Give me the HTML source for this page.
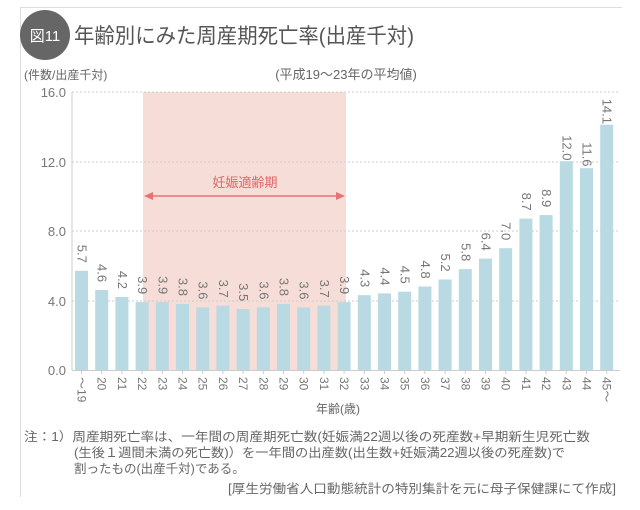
<!DOCTYPE html>
<html><head><meta charset="utf-8"><style>
body{margin:0;background:#fff;}
svg{display:block;font-family:"Liberation Sans","Noto Sans CJK JP",sans-serif;}
</style></head><body>
<svg width="640" height="510" viewBox="0 0 640 510">
<line x1="20" y1="7.5" x2="622" y2="7.5" stroke="#ddd"/>
<line x1="20.5" y1="7" x2="20.5" y2="497" stroke="#ddd"/>
<circle cx="45" cy="35" r="25" fill="#666"/>
<text x="45" y="41" font-size="15" fill="#fff" text-anchor="middle">図11</text>
<text x="74" y="43" font-size="21" fill="#555" textLength="340" lengthAdjust="spacingAndGlyphs">年齢別にみた周産期死亡率(出産千対)</text>
<text x="24" y="79" font-size="12" fill="#666">(件数/出産千対)</text>
<text x="346" y="79" font-size="13" fill="#666" text-anchor="middle">(平成19～23年の平均値)</text>
<rect x="143" y="92" width="203" height="278" fill="#f6ddd7"/>
<g stroke="#ccc" stroke-dasharray="2,2">
<line x1="72" y1="92" x2="620" y2="92"/>
<line x1="72" y1="162" x2="620" y2="162"/>
<line x1="72" y1="231" x2="620" y2="231"/>
<line x1="72" y1="301" x2="620" y2="301"/>
</g>
<line x1="72" y1="92" x2="72" y2="370" stroke="#ccc"/>
<line x1="72" y1="370.5" x2="620" y2="370.5" stroke="#ccc"/>
<g font-size="13" fill="#777" text-anchor="end">
<text x="66" y="97">16.0</text><text x="66" y="167">12.0</text>
<text x="66" y="236">8.0</text><text x="66" y="306">4.0</text><text x="66" y="375">0.0</text>
</g>
<text x="245" y="187" font-size="13" fill="#e06666" text-anchor="middle">妊娠適齢期</text>
<line x1="150" y1="196" x2="339" y2="196" stroke="#e57373" stroke-width="1.5"/>
<polygon points="144,196 153,192 153,200" fill="#e57373"/>
<polygon points="345,196 336,192 336,200" fill="#e57373"/>
<g id="bars"></g>
<text x="338" y="413" font-size="12" fill="#666" text-anchor="middle">年齢(歳)</text>
<g font-size="12.5" fill="#666">
<text x="24" y="441" textLength="566" lengthAdjust="spacingAndGlyphs">注：1）周産期死亡率は、一年間の周産期死亡数(妊娠満22週以後の死産数+早期新生児死亡数</text>
<text x="74" y="457" textLength="491" lengthAdjust="spacingAndGlyphs">(生後１週間未満の死亡数)）を一年間の出産数(出生数+妊娠満22週以後の死産数)で</text>
<text x="74" y="473">割ったもの(出産千対)である。</text>
<text x="616" y="493" text-anchor="end" textLength="388" lengthAdjust="spacingAndGlyphs">[厚生労働省人口動態統計の特別集計を元に母子保健課にて作成]</text>
</g>
</svg>
<script>
var v=[5.7,4.6,4.2,3.9,3.9,3.8,3.6,3.7,3.5,3.6,3.8,3.6,3.7,3.9,4.3,4.4,4.5,4.8,5.2,5.8,6.4,7.0,8.7,8.9,12.0,11.6,14.1];
var lab=["～19"];for(var a=20;a<=44;a++)lab.push(""+a);lab.push("45～");
var g=document.getElementById("bars"),s="";
for(var i=0;i<27;i++){var x=75+i*20.2,h=v[i]*17.4,y=370-h;
s+='<rect x="'+x.toFixed(1)+'" y="'+y.toFixed(1)+'" width="13" height="'+h.toFixed(1)+'" fill="#b9d9e3"/>';
var cx=x+6.5;
s+='<text transform="translate('+(cx-4).toFixed(1)+','+(y-26).toFixed(1)+') rotate(90)" font-size="13" fill="#777">'+v[i].toFixed(1)+'</text>';
s+='<line x1="'+cx.toFixed(1)+'" y1="370" x2="'+cx.toFixed(1)+'" y2="374" stroke="#ccc"/>';
s+='<text transform="translate('+(cx-4).toFixed(1)+',377) rotate(90)" font-size="12" fill="#777">'+lab[i]+'</text>';}
g.innerHTML=s;
</script>
</body></html>
